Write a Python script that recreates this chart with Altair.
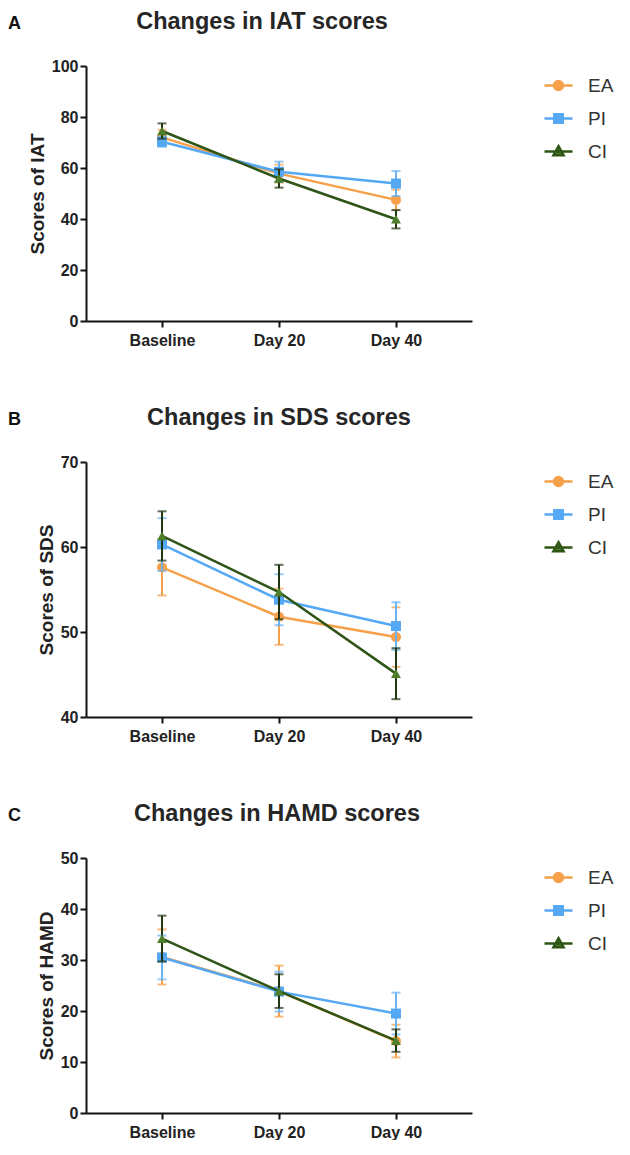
import altair as alt
import pandas as pd

times = ["Baseline", "Day 20", "Day 40"]
groups = ["EA", "PI", "CI"]
line_colors = ["#F6A04A", "#55A8F4", "#2E5416"]
marker_colors = ["#F6A04A", "#55A8F4", "#4F7F2C"]
err_colors = ["#F6A04A", "#6AB2F2", "#1F3510"]
shapes = ["circle", "square", "triangle-up"]
legend_paths = [
    "M-1,0H1M-0.32,0A0.32,0.32,0,1,1,0.32,0A0.32,0.32,0,1,1,-0.32,0Z",
    "M-1,0H1M-0.3,-0.3H0.3V0.3H-0.3Z",
    "M-1,0H1M0,-0.38L0.36,0.26H-0.36Z",
]

panel_letters = ["A", "B", "C"]
panel_titles = ["Changes in IAT scores", "Changes in SDS scores", "Changes in HAMD scores"]
title_dx = [-17, 0, -2]
y_titles = ["Scores of IAT", "Scores of SDS", "Scores of HAMD"]
y_domains = [[0, 100], [40, 70], [0, 50]]
y_ticks = [[0, 20, 40, 60, 80, 100], [40, 50, 60, 70], [0, 10, 20, 30, 40, 50]]

# IAT
iat_mean = {"EA": [72.0, 57.8, 47.5], "PI": [70.3, 58.5, 53.9], "CI": [74.5, 55.9, 39.9]}
iat_err = {"EA": [3.0, 3.5, 4.0], "PI": [2.0, 4.0, 4.9], "CI": [3.0, 3.6, 3.6]}
# SDS
sds_mean = {"EA": [57.6, 51.8, 49.4], "PI": [60.3, 53.8, 50.7], "CI": [61.3, 54.7, 45.1]}
sds_err = {"EA": [3.3, 3.3, 3.5], "PI": [3.1, 3.0, 2.8], "CI": [2.9, 3.2, 3.0]}
# HAMD
hamd_mean = {"EA": [30.6, 23.9, 14.1], "PI": [30.5, 23.8, 19.5], "CI": [34.2, 23.9, 14.2]}
hamd_err = {"EA": [5.4, 5.0, 3.2], "PI": [4.3, 3.9, 4.1], "CI": [4.5, 3.3, 2.2]}

means = [iat_mean, sds_mean, hamd_mean]
errs = [iat_err, sds_err, hamd_err]

FONT = "Liberation Sans"


def panel(i):
    rows = []
    for g in groups:
        for t, m, e in zip(times, means[i][g], errs[i][g]):
            rows.append({"group": g, "time": t, "mean": m, "lo": m - e, "hi": m + e})
    df = pd.DataFrame(rows)

    x = alt.X(
        "time:N",
        sort=times,
        scale=alt.Scale(type="point", domain=times, padding=0.65),
        axis=alt.Axis(title=None, labelAngle=0, labelPadding=5),
    )
    yscale = alt.Scale(domain=y_domains[i], nice=False, zero=False)
    yaxis = alt.Axis(values=y_ticks[i], title=y_titles[i], grid=False, labelPadding=2, titlePadding=4)

    legend = alt.Legend(
        title=None,
        orient="none",
        legendX=457,
        legendY=4,
        symbolSize=784,
        symbolStrokeWidth=2.5,
        symbolOpacity=1,
        labelFontSize=19,
        labelFont=FONT,
        labelColor="#333333",
        labelOffset=14,
        rowPadding=7,
    )

    layers = []
    for j, g in enumerate(groups):
        sub = alt.Chart(df).transform_filter(alt.datum.group == g)
        line = sub.mark_line(strokeWidth=2.5, color=line_colors[j]).encode(
            x=x, y=alt.Y("mean:Q", scale=yscale, axis=yaxis)
        )
        err = sub.mark_errorbar(
            ticks={"size": 9, "thickness": 2},
            rule={"strokeWidth": 2},
            color=err_colors[j],
        ).encode(
            x=x,
            y=alt.Y("lo:Q", scale=yscale, axis=yaxis),
            y2="hi:Q",
        )
        pts = sub.mark_point(
            filled=True, shape=shapes[j], size=100, color=marker_colors[j], opacity=1
        ).encode(x=x, y=alt.Y("mean:Q", scale=yscale, axis=yaxis))
        layers += [line, err, pts]

    # legend-only layer: no data rows pass, the legend comes from the fixed domains
    leg = (
        alt.Chart(df)
        .transform_filter("datum.mean < -1000000")
        .mark_point(filled=True, strokeWidth=2.5, opacity=1)
        .encode(
            x=x,
            y=alt.Y("mean:Q", scale=yscale, axis=yaxis),
            fill=alt.Fill("group:N", scale=alt.Scale(domain=groups, range=marker_colors), legend=legend),
            stroke=alt.Stroke("group:N", scale=alt.Scale(domain=groups, range=line_colors), legend=legend),
            shape=alt.Shape("group:N", scale=alt.Scale(domain=groups, range=legend_paths), legend=legend),
        )
    )
    layers.append(leg)

    letter = alt.Chart(alt.Data(values=[{"letter": panel_letters[i]}])).mark_text(
        align="left", baseline="alphabetic", fontSize=18, fontWeight="bold", font=FONT, color="#111111"
    ).encode(text="letter:N", x=alt.value(-78), y=alt.value(-37))
    layers.append(letter)

    return alt.layer(*layers).properties(
        width=386,
        height=255,
        title=alt.TitleParams(
            panel_titles[i],
            fontSize=23.5,
            fontWeight="bold",
            font=FONT,
            color="#262626",
            frame="group",
            anchor="middle",
            baseline="alphabetic",
            offset=-37,
            dx=title_dx[i],
        ),
    )


chart = (
    alt.vconcat(*[panel(i) for i in range(3)], spacing=57)
    .resolve_scale(
        fill="independent", stroke="independent", shape="independent",
        x="independent", y="independent",
    )
    .properties(padding={"left": 0, "top": 1, "right": 0, "bottom": 0})
    .configure_view(stroke=None)
    .configure_axis(
        domainColor="#111111",
        domainWidth=2,
        tickColor="#111111",
        tickWidth=2,
        tickSize=6,
        labelFont=FONT,
        labelFontSize=16,
        labelFontWeight="bold",
        labelColor="#222222",
        titleFont=FONT,
        titleFontSize=19,
        titleFontWeight="bold",
        titleColor="#222222",
    )
)

chart.save("out.html", embed_options={"renderer": "svg", "actions": False})
